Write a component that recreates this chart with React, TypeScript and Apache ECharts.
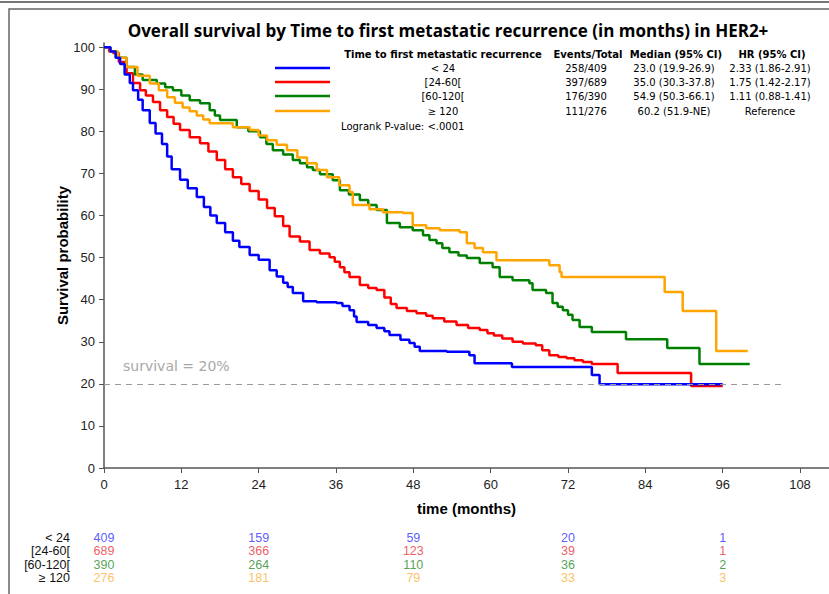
import React, { useEffect, useRef } from "react";
import * as echarts from "echarts";

// ---------- data ----------
const groups = ["< 24", "[24-60[", "[60-120[", "≥ 120"];
const lineColors = ["#0000ff", "#ff0000", "#008000", "#ffa500"];
const riskColors = ["#2f2fff", "#e8323a", "#2a8a2a", "#fbb03b"];

const survLt24: [number, number][] = [
  [0, 100], [1, 99], [1.8, 97.5], [2.5, 96], [3.2, 93.5], [4, 91.5], [4.5, 89.8], [5.3, 87.5],
  [6, 85], [7.1, 82], [8, 79.5], [9, 77], [9.8, 74], [10.5, 71], [11.8, 68.5], [13, 66.5],
  [14.4, 64.4], [15.5, 62], [16.5, 60], [17.5, 58.2], [18.8, 56], [20, 54], [21, 52.5],
  [22.6, 50.6], [24, 49.5], [25.7, 47], [26.8, 45.5], [27.8, 44], [28.5, 43], [29.3, 41.6],
  [30.9, 39.6], [33, 39.4], [36.1, 39.2], [37, 38.5], [38.1, 37.5], [38.8, 36], [39.2, 34.7],
  [41, 34], [42.3, 33.3], [43.5, 32.5], [44.3, 31.6], [46, 30.5], [47.4, 29.7], [48.2, 28.8],
  [49, 27.8], [53.2, 27.6], [56.7, 26.8], [57.5, 24.9], [63.3, 24.0], [75.7, 22.1], [76.9, 19.9],
  [96, 19.9],
];
const surv24to60: [number, number][] = [
  [0, 100], [0.8, 99], [1.4, 98.6], [2.3, 96.5], [3.5, 93.8], [4.5, 91.5], [5.6, 89.8], [6.5, 88.5],
  [7.6, 87], [8.7, 85], [9.8, 83.4], [10.8, 81.8], [11.8, 80.3], [13.3, 78.6], [14.9, 77.2],
  [16.2, 75.2], [17.5, 73.2], [18.8, 71], [20, 69.1], [21.3, 67.5], [22.6, 65.8], [24, 63.8],
  [25.3, 61.8], [26.5, 59.8], [27.8, 57.5], [28.8, 55], [30.4, 53.8], [31.9, 51.8], [33.5, 51],
  [35, 50.1], [35.8, 49], [36.6, 47.7], [37.3, 46.5], [38.1, 45.4], [39.7, 43.5], [41, 42.8],
  [42.3, 42.3], [43.5, 40.5], [44.5, 39], [45.4, 38], [47, 37.3], [48.5, 36.8], [50, 36.2],
  [51, 35.6], [52.8, 34.8], [54.7, 34], [56.5, 33.3], [58.3, 32.8], [59.5, 32], [60.5, 31.5],
  [61.8, 30.8], [63.4, 30], [65, 29.6], [67, 29.2], [68, 28], [69.1, 26.8], [70.5, 26.4],
  [71.8, 26.1], [73, 25.6], [74.3, 25.2], [75.7, 24.7], [79.7, 22.6], [91.1, 19.5], [96, 19.5],
];
const surv60to120: [number, number][] = [
  [0, 100], [1, 99], [2, 97.5], [3.5, 95.3], [4.8, 93.5], [6, 92.2], [8.2, 91.4], [9.5, 90.5],
  [10.7, 89.8], [12, 88.5], [13.3, 87.4], [14.9, 86.7], [16.4, 85], [17.2, 83.8], [18, 82.7],
  [20.6, 81], [22.4, 80], [24.2, 78.6], [25.2, 77], [26.2, 75.5], [27.8, 74.5], [29.3, 73.2],
  [30.4, 72.4], [31.5, 71.5], [32.4, 70.8], [33.5, 69.8], [35.5, 68.4], [36.6, 66], [38, 65],
  [39.7, 63.7], [41, 62.5], [42.3, 61.3], [43.9, 58.2], [45.9, 57.2], [47.9, 56.5], [49.5, 55.3],
  [50.5, 54.2], [51.6, 53.4], [52.5, 52.3], [53.6, 51.3], [55, 50.5], [56.3, 49.9], [58.3, 48.7],
  [60.3, 47.7], [61.4, 45.4], [63.4, 44.6], [66, 43.9], [66.5, 42.3], [68.6, 41.6], [69.6, 39.2],
  [70.4, 38.3], [71.2, 37.5], [72, 36.4], [72.7, 35.2], [73.8, 33.5], [75.7, 32.3], [81, 30.6],
  [87.4, 28.5], [92.4, 24.7], [100.2, 24.7],
];
const surv120plus: [number, number][] = [
  [0, 100], [1, 99], [2.2, 97.5], [3.5, 95.3], [5.2, 93.2], [7.1, 91.4], [8.5, 89.8], [9.8, 88.1],
  [11, 86.8], [12.2, 85.7], [13.3, 84.8], [14.4, 83.8], [15.4, 82.8], [16.4, 81.9], [20, 81],
  [22.6, 80.3], [24, 79], [25.3, 77.9], [26.8, 76.8], [28.4, 75.5], [30, 73.8], [31.5, 72.4],
  [33, 70.8], [34.6, 69.1], [36.5, 67.2], [38.1, 65.6], [38.6, 62.5], [41.2, 61.5], [43.3, 60.8],
  [46.4, 60.6], [47.9, 57.7], [50, 57], [52.1, 56.5], [55.2, 56], [56.3, 53.4], [57.5, 52.3],
  [58.8, 51.3], [60.9, 49.4], [69.1, 48.2], [70.7, 46.6], [71, 45.4], [87, 41.8], [89.8, 37.3],
  [95, 27.8], [99.9, 27.8],
];
const survivalSeries = [survLt24, surv24to60, surv60to120, surv120plus];

const eventsTotal = ["258/409", "397/689", "176/390", "111/276"];
const medianCI = ["23.0 (19.9-26.9)", "35.0 (30.3-37.8)", "54.9 (50.3-66.1)", "60.2 (51.9-NE)"];
const hrCI = ["2.33 (1.86-2.91)", "1.75 (1.42-2.17)", "1.11 (0.88-1.41)", "Reference"];
const legendHeaders = ["Time to first metastatic recurrence", "Events/Total", "Median (95% CI)", "HR (95% CI)"];
const logrankText = "Logrank P-value: <.0001";

const riskTimes = [0, 24, 48, 72, 96];
const riskLt24 = [409, 159, 59, 20, 1];
const risk24to60 = [689, 366, 123, 39, 1];
const risk60to120 = [390, 264, 110, 36, 2];
const risk120plus = [276, 181, 79, 33, 3];
const riskTable = [riskLt24, risk24to60, risk60to120, risk120plus];

const refSurvival = 20;
const refLabel = "survival = 20%";
const titleText = "Overall survival by Time to first metastatic recurrence (in months) in HER2+";

const narrow = '"Liberation Sans Narrow", "Liberation Sans", Arial, sans-serif';
const verdana = '"DejaVu Sans", Verdana, sans-serif';

export default function App() {
  const ref = useRef<HTMLDivElement>(null);
  useEffect(() => {
    if (!ref.current) return;
    const chart = echarts.init(ref.current, undefined, { renderer: "svg" });

    const lineSeries = survivalSeries.map((d, i) => ({
      type: "line",
      name: groups[i],
      xAxisIndex: 0,
      yAxisIndex: 0,
      data: d,
      step: "end",
      showSymbol: false,
      symbol: "none",
      z: i === 0 ? 4 : 3,
      lineStyle: { color: lineColors[i], width: 2.5 },
      itemStyle: { color: lineColors[i] },
      ...(i === 0
        ? {
            markLine: {
              silent: true,
              symbol: "none",
              label: { show: false },
              lineStyle: { color: "#9a9a9a", type: [6, 5], width: 1 },
              data: [[{ coord: [0, refSurvival] }, { coord: [105.5, refSurvival] }]],
            },
          }
        : {}),
    }));

    const riskSeries = riskTable.map((row, g) => ({
      type: "scatter",
      xAxisIndex: 1,
      yAxisIndex: 1,
      symbolSize: 1,
      itemStyle: { color: "rgba(0,0,0,0)" },
      data: row.map((v, k) => [riskTimes[k], groups[g], v]),
      label: {
        show: true,
        position: "inside",
        formatter: (p: any) => String(p.value[2]),
        color: riskColors[g],
        fontFamily: narrow,
        fontSize: 12.5,
        lineHeight: 13,
      },
    }));

    const legendGraphics: any[] = [];
    const colX = [443, 588, 676, 772];
    legendHeaders.forEach((h, k) => {
      legendGraphics.push({
        type: "text",
        x: colX[k],
        y: 54,
        style: { text: h, fill: "#000", font: `bold 10px ${verdana}`, textAlign: "center", textVerticalAlign: "middle" },
      });
    });
    const rowY = [68, 82, 96, 111];
    groups.forEach((g, i) => {
      legendGraphics.push({
        type: "line",
        shape: { x1: 275, y1: rowY[i], x2: 330, y2: rowY[i] },
        style: { stroke: lineColors[i], lineWidth: 2.5 },
      });
      const cells = [g, eventsTotal[i], medianCI[i], hrCI[i]];
      cells.forEach((c, k) => {
        legendGraphics.push({
          type: "text",
          x: k === 1 ? 586 : k === 2 ? 674 : k === 3 ? 770 : colX[k],
          y: rowY[i],
          style: { text: c, fill: "#000", font: `10px ${verdana}`, textAlign: "center", textVerticalAlign: "middle" },
        });
      });
    });
    legendGraphics.push({
      type: "text",
      x: 341,
      y: 126,
      style: { text: logrankText, fill: "#000", font: `10px ${verdana}`, textAlign: "left", textVerticalAlign: "middle" },
    });

    chart.setOption({
      animation: false,
      backgroundColor: "#fff",
      grid: [
        { left: 104, top: 43, width: 725, height: 425, containLabel: false },
        { left: 104, top: 531.3, width: 725, height: 53.4, containLabel: false },
      ],
      xAxis: [
        {
          type: "value",
          gridIndex: 0,
          min: 0,
          max: 112.5,
          interval: 12,
          name: "time (months)",
          nameLocation: "middle",
          nameGap: 33,
          nameTextStyle: { fontFamily: narrow, fontWeight: "bold", fontSize: 15, color: "#000" },
          axisLine: { lineStyle: { color: "#555", width: 1.5 } },
          axisTick: { show: true, length: 5, lineStyle: { color: "#555" } },
          axisLabel: { color: "#222", fontFamily: narrow, fontSize: 13, margin: 10, showMaxLabel: false },
          splitLine: { show: false },
        },
        {
          type: "value",
          gridIndex: 1,
          min: 0,
          max: 112.5,
          show: false,
        },
      ],
      yAxis: [
        {
          type: "value",
          gridIndex: 0,
          min: 0,
          max: 101,
          interval: 10,
          name: "Survival probability",
          nameLocation: "middle",
          nameRotate: 90,
          nameGap: 34,
          nameMoveOverlap: false,
          nameTextStyle: { fontFamily: narrow, fontWeight: "bold", fontSize: 15, color: "#000" },
          axisLine: { show: true, lineStyle: { color: "#555", width: 1.5 } },
          axisTick: { show: true, length: 5, lineStyle: { color: "#555" } },
          axisLabel: { color: "#222", fontFamily: narrow, fontSize: 13, margin: 9, showMaxLabel: false },
          splitLine: { show: false },
        },
        {
          type: "category",
          gridIndex: 1,
          data: groups,
          inverse: true,
          axisLine: { show: false },
          axisTick: { show: false },
          axisLabel: {
            interval: 0,
            color: "#111",
            fontFamily: narrow,
            fontSize: 12.5,
            lineHeight: 13,
            margin: 34,
            align: "right",
          },
          splitLine: { show: false },
        },
      ],
      graphic: [
        { type: "rect", shape: { x: 0, y: 1, width: 829, height: 2 }, style: { fill: "#777" }, silent: true },
        {
          type: "rect",
          shape: { x: 9, y: 9, width: 900, height: 700 },
          style: { fill: "none", stroke: "#666", lineWidth: 1.5 },
          silent: true,
        },
        {
          type: "text",
          x: 448,
          y: 30,
          style: {
            text: titleText,
            fill: "#000",
            font: `bold 17px "Open Sans", sans-serif`,
            textAlign: "center",
            textVerticalAlign: "middle",
          },
        },
        {
          type: "text",
          x: 123,
          y: 366,
          style: { text: refLabel, fill: "#a8a8a8", font: `14px ${verdana}`, textAlign: "left", textVerticalAlign: "middle" },
        },
        ...legendGraphics,
      ],
      series: [...lineSeries, ...riskSeries],
    });
    return () => chart.dispose();
  }, []);
  return <div ref={ref} style={{ position: "fixed", left: 0, top: 0, width: 829, height: 594 }} />;
}
